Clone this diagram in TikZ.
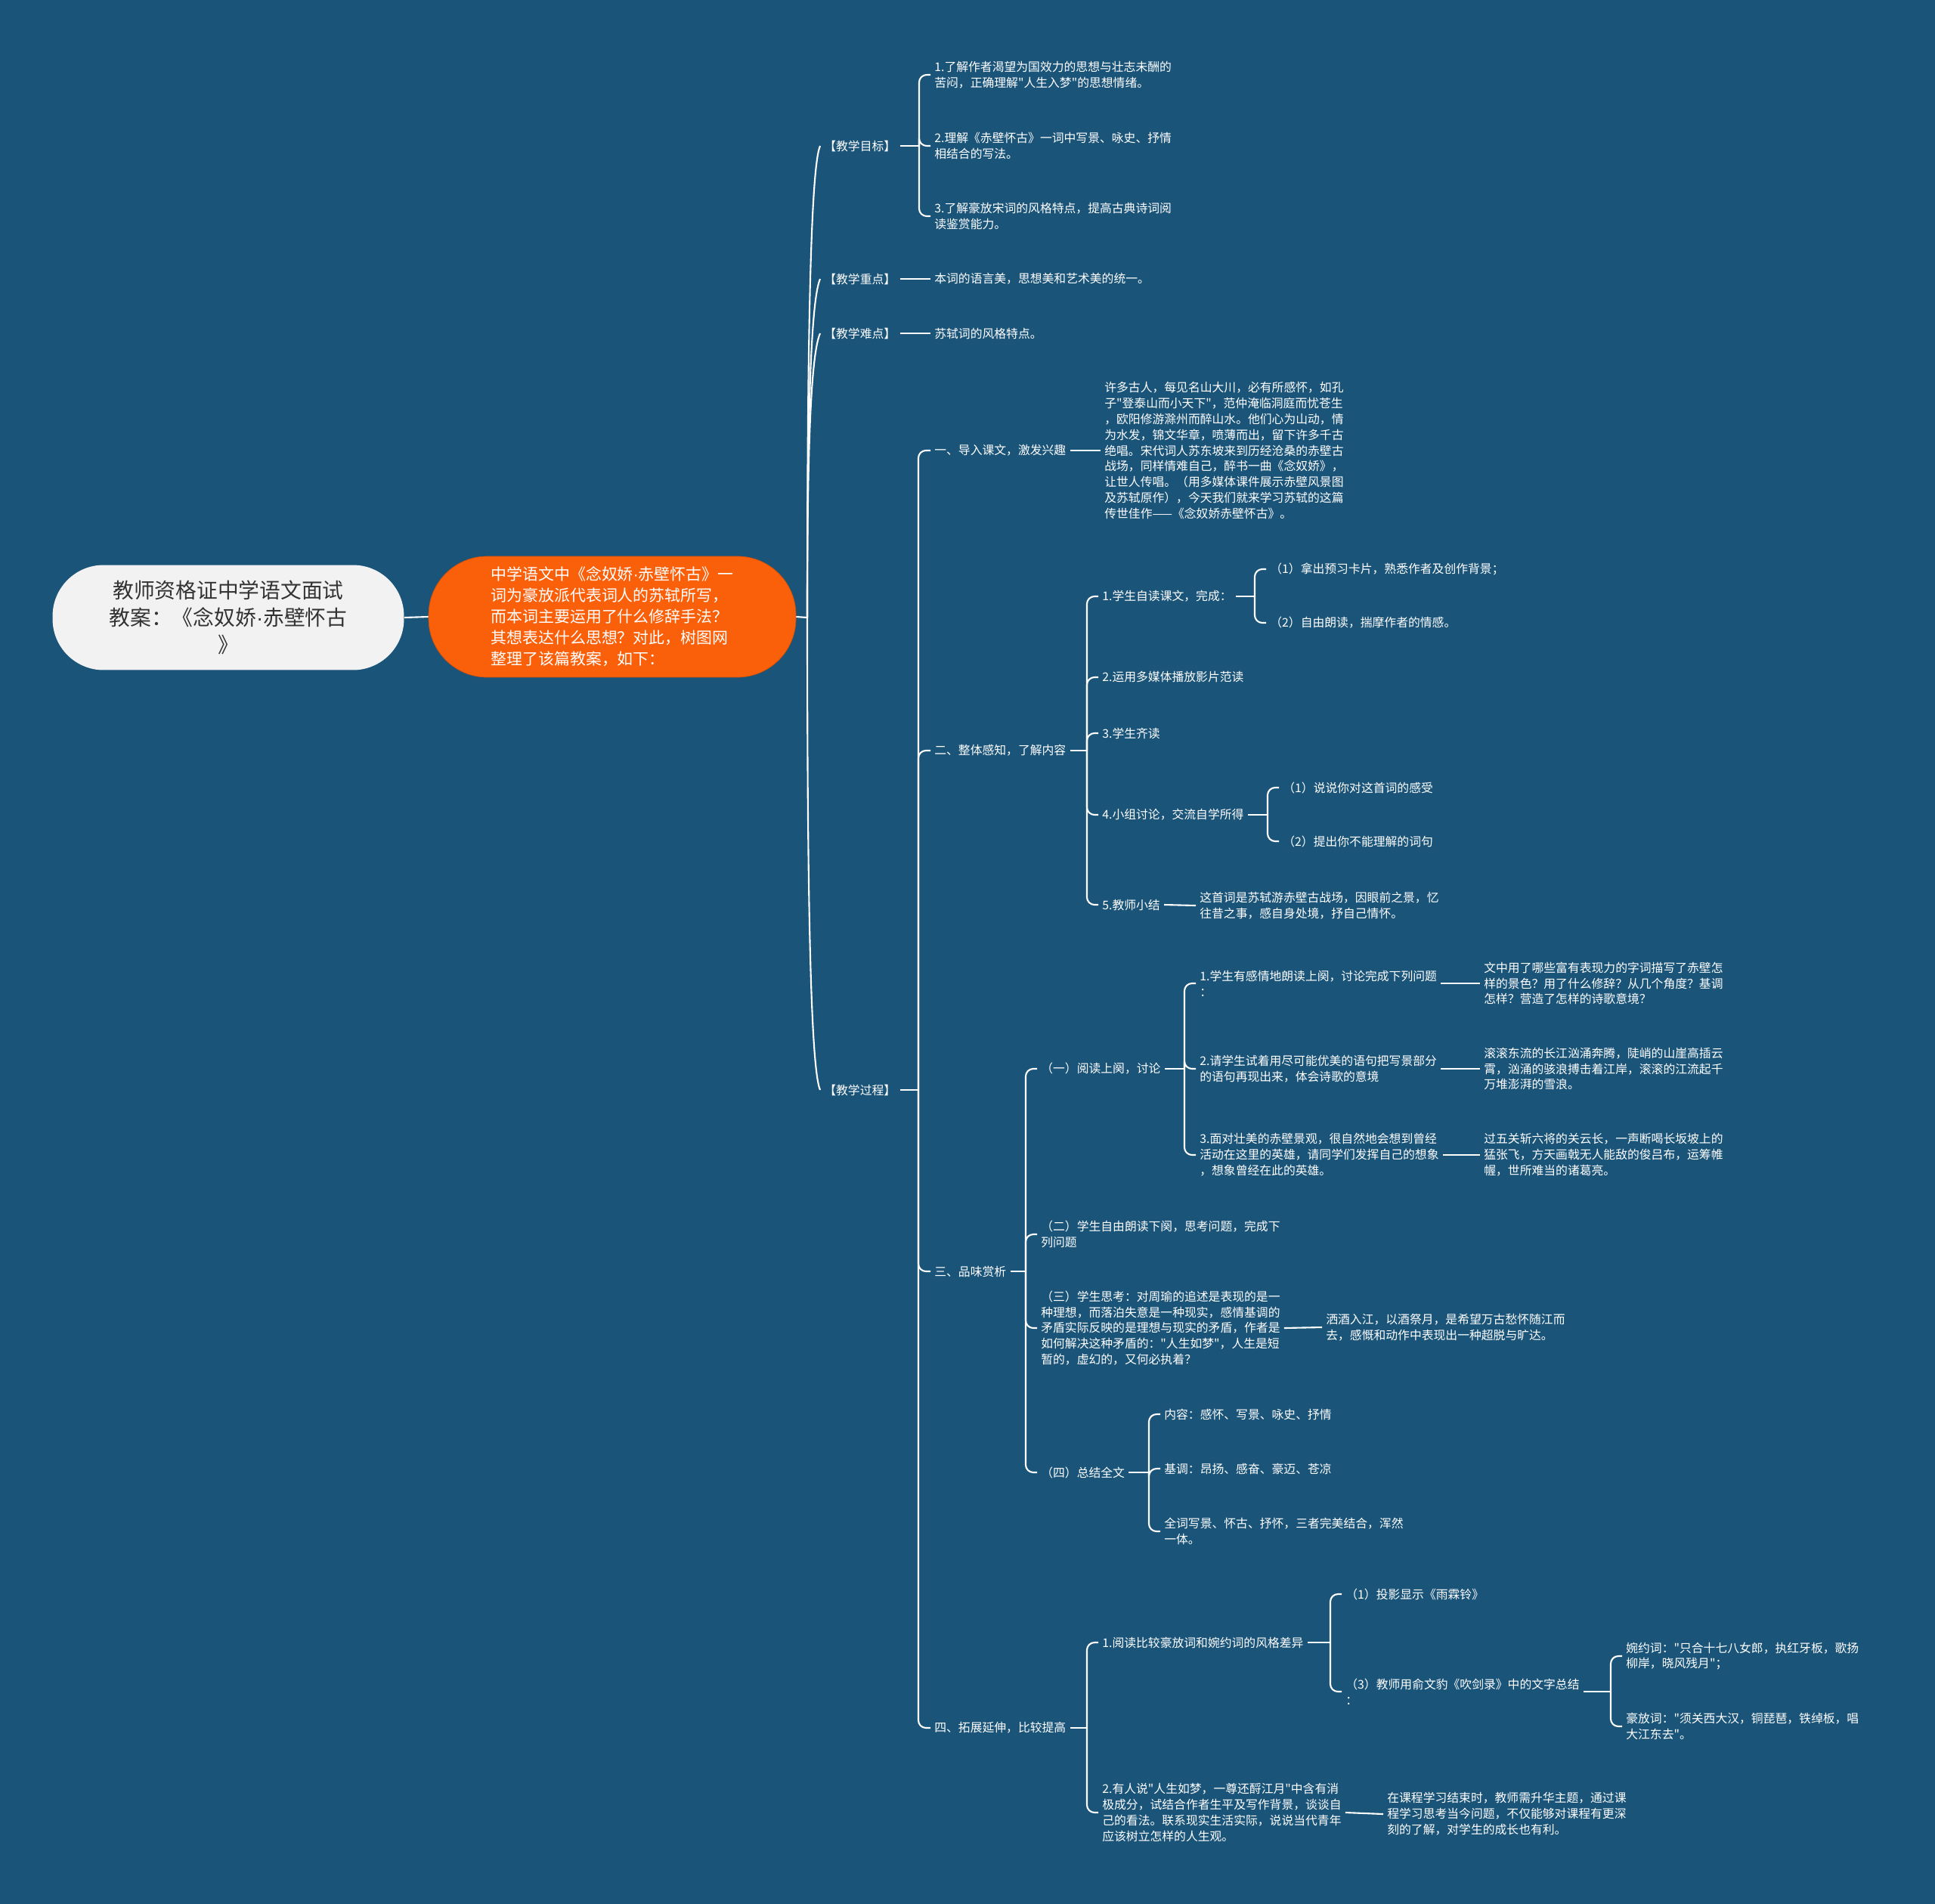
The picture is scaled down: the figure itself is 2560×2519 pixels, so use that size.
\documentclass[tikz,border=0pt]{standalone}
\usepackage{fontspec}
\usepackage{xcolor}
\usepackage{tikz}
\usetikzlibrary{positioning, calc}
\newfontfamily\cjk{Noto Sans CJK SC}
\newfontfamily\latin{Liberation Sans}
\newcommand{\mdot}{{\latin ·}}
\definecolor{mybg}{RGB}{26,84,121}
\definecolor{myorange}{RGB}{250,95,10}
\definecolor{myroot}{RGB}{242,242,242}
\definecolor{mydark}{RGB}{51,51,51}
\tikzset{
  rootnode/.style={rectangle, fill=myroot, text=mydark, minimum width=9.3cm, minimum height=2.78cm, rounded corners=1.35cm, align=center, font=\cjk\fontsize{15.8}{20.4}\selectfont},
  mainnode/.style={rectangle, fill=myorange, draw=myorange!85!black, line width=0.4pt, text=white, minimum width=9.72cm, minimum height=3.2cm, rounded corners=1.55cm, align=left, font=\cjk\fontsize{11.9}{15.9}\selectfont},
  topic/.style={anchor=west, text=white, align=left, inner sep=0.1cm, font=\cjk\fontsize{9}{11.9}\selectfont},
  link/.style={draw=white, line width=1.2pt, rounded corners=0.2cm},
  branch/.style={draw=white, line width=1.2pt}
}

\begin{document}
\begin{tikzpicture}[x=0.02cm, y=-0.02cm]
  % Canvas
  \fill[mybg] (0,0) rectangle (2560,2519);
  \useasboundingbox (0,0) rectangle (2560,2519);

  % Root and main topic
  \node[rootnode] (root) at (302,817) {教师资格证中学语文面试\\教案：《念奴娇\mdot 赤壁怀古\\》};
  \node[mainnode] (main) at (810,816) {中学语文中《念奴娇\mdot 赤壁怀古》一\\词为豪放派代表词人的苏轼所写，\\而本词主要运用了什么修辞手法？\\其想表达什么思想？对此，树图网\\整理了该篇教案，如下：};
  \draw[branch] (root.east) -- (main.west);
  \coordinate (hub) at (1068,817);
  \draw[branch] (main.east) -- (hub);

  % Level one
  \node[topic] (goal) at (1085,193) {【教学目标】};
  \node[topic] (focus) at (1085,369) {【教学重点】};
  \node[topic] (hard) at (1085,441) {【教学难点】};
  \node[topic] (proc) at (1085,1442) {【教学过程】};
  \draw[branch] (hub) .. controls (1068,505) and (1071,225) .. (goal.west);
  \draw[branch] (hub) .. controls (1068,593) and (1071,401) .. (focus.west);
  \draw[branch] (hub) .. controls (1068,629) and (1071,473) .. (hard.west);
  \draw[branch] (hub) .. controls (1068,1130) and (1071,1410) .. (proc.west);

  % Teaching goals
  \node[topic] (goal1) at (1231,99) {1.了解作者渴望为国效力的思想与壮志未酬的\\苦闷，正确理解"人生入梦"的思想情绪。};
  \node[topic] (goal2) at (1231,193) {2.理解《赤壁怀古》一词中写景、咏史、抒情\\相结合的写法。};
  \node[topic] (goal3) at (1231,286) {3.了解豪放宋词的风格特点，提高古典诗词阅\\读鉴赏能力。};
  \coordinate (bkgoal) at (1216,193);
  \draw[link] (goal.east) -- (bkgoal);
  \foreach \c in {goal1, goal2, goal3}
    \draw[link] (bkgoal) |- (\c.west);

  % Focus and difficulty
  \node[topic] (focus1) at (1231,369) {本词的语言美，思想美和艺术美的统一。};
  \node[topic] (hard1) at (1231,441) {苏轼词的风格特点。};
  \draw[branch] (focus.east) -- (focus1.west);
  \draw[branch] (hard.east) -- (hard1.west);

  % Teaching process
  \node[topic] (step1) at (1231,596) {一、导入课文，激发兴趣};
  \node[topic] (step2) at (1231,993) {二、整体感知，了解内容};
  \node[topic] (step3) at (1231,1682) {三、品味赏析};
  \node[topic] (step4) at (1231,2286) {四、拓展延伸，比较提高};
  \coordinate (bkproc) at (1215,1442);
  \draw[link] (proc.east) -- (bkproc);
  \foreach \c in {step1, step2, step3, step4}
    \draw[link] (bkproc) |- (\c.west);

  % Step one
  \node[topic] (step1txt) at (1456,596) {许多古人，每见名山大川，必有所感怀，如孔\\子"登泰山而小天下"，范仲淹临洞庭而忧苍生\\，欧阳修游滁州而醉山水。他们心为山动，情\\为水发，锦文华章，喷薄而出，留下许多千古\\绝唱。宋代词人苏东坡来到历经沧桑的赤壁古\\战场，同样情难自己，醉书一曲《念奴娇》，\\让世人传唱。（用多媒体课件展示赤壁风景图\\及苏轼原作），今天我们就来学习苏轼的这篇\\传世佳作——《念奴娇赤壁怀古》。};
  \draw[branch] (step1.east) -- (step1txt.west);

  % Step two
  \node[topic] (step2a) at (1453,789) {1.学生自读课文，完成：};
  \node[topic] (step2b) at (1453,896) {2.运用多媒体播放影片范读};
  \node[topic] (step2c) at (1453,970) {3.学生齐读};
  \node[topic] (step2d) at (1453,1078) {4.小组讨论，交流自学所得};
  \node[topic] (step2e) at (1453,1197) {5.教师小结};
  \coordinate (bktwo) at (1438,993);
  \draw[link] (step2.east) -- (bktwo);
  \foreach \c in {step2a, step2b, step2c, step2d, step2e}
    \draw[link] (bktwo) |- (\c.west);

  \node[topic] (step2a1) at (1675,753) {（1）拿出预习卡片，熟悉作者及创作背景；};
  \node[topic] (step2a2) at (1675,824) {（2）自由朗读，揣摩作者的情感。};
  \coordinate (bktwoa) at (1660,789);
  \draw[link] (step2a.east) -- (bktwoa);
  \foreach \c in {step2a1, step2a2}
    \draw[link] (bktwoa) |- (\c.west);

  \node[topic] (step2d1) at (1692,1042) {（1）说说你对这首词的感受};
  \node[topic] (step2d2) at (1692,1113) {（2）提出你不能理解的词句};
  \coordinate (bktwod) at (1677,1078);
  \draw[link] (step2d.east) -- (bktwod);
  \foreach \c in {step2d1, step2d2}
    \draw[link] (bktwod) |- (\c.west);

  \node[topic] (step2etxt) at (1582,1198) {这首词是苏轼游赤壁古战场，因眼前之景，忆\\往昔之事，感自身处境，抒自己情怀。};
  \draw[branch] (step2e.east) -- (step2etxt.west);

  % Step three
  \node[topic] (step3a) at (1372,1414) {（一）阅读上阕，讨论};
  \node[topic] (step3b) at (1372,1633) {（二）学生自由朗读下阕，思考问题，完成下\\列问题};
  \node[topic] (step3c) at (1372,1757) {（三）学生思考：对周瑜的追述是表现的是一\\种理想，而落泊失意是一种现实，感情基调的\\矛盾实际反映的是理想与现实的矛盾，作者是\\如何解决这种矛盾的："人生如梦"，人生是短\\暂的，虚幻的，又何必执着？};
  \node[topic] (step3d) at (1372,1948) {（四）总结全文};
  \coordinate (bkthree) at (1357,1682);
  \draw[link] (step3.east) -- (bkthree);
  \foreach \c in {step3a, step3b, step3c, step3d}
    \draw[link] (bkthree) |- (\c.west);

  \node[topic] (step3a1) at (1582,1301) {1.学生有感情地朗读上阕，讨论完成下列问题\\：};
  \node[topic] (step3a2) at (1582,1414) {2.请学生试着用尽可能优美的语句把写景部分\\的语句再现出来，体会诗歌的意境};
  \node[topic] (step3a3) at (1582,1528) {3.面对壮美的赤壁景观，很自然地会想到曾经\\活动在这里的英雄，请同学们发挥自己的想象\\，想象曾经在此的英雄。};
  \coordinate (bkthreea) at (1567,1414);
  \draw[link] (step3a.east) -- (bkthreea);
  \foreach \c in {step3a1, step3a2, step3a3}
    \draw[link] (bkthreea) |- (\c.west);

  \node[topic] (step3a1txt) at (1958,1301) {文中用了哪些富有表现力的字词描写了赤壁怎\\样的景色？用了什么修辞？从几个角度？基调\\怎样？营造了怎样的诗歌意境？};
  \node[topic] (step3a2txt) at (1958,1414) {滚滚东流的长江汹涌奔腾，陡峭的山崖高插云\\霄，汹涌的骇浪搏击着江岸，滚滚的江流起千\\万堆澎湃的雪浪。};
  \node[topic] (step3a3txt) at (1958,1528) {过五关斩六将的关云长，一声断喝长坂坡上的\\猛张飞，方天画戟无人能敌的俊吕布，运筹帷\\幄，世所难当的诸葛亮。};
  \draw[branch] (step3a1.east |- step3a1txt.west) -- (step3a1txt.west);
  \draw[branch] (step3a2.east) -- (step3a2txt.west);
  \draw[branch] (step3a3.east) -- (step3a3txt.west);

  \node[topic] (step3ctxt) at (1749,1756) {洒酒入江，以酒祭月，是希望万古愁怀随江而\\去，感慨和动作中表现出一种超脱与旷达。};
  \draw[branch] (step3c.east) -- (step3ctxt.west);

  \node[topic] (step3d1) at (1535,1871) {内容：感怀、写景、咏史、抒情};
  \node[topic] (step3d2) at (1535,1943) {基调：昂扬、感奋、豪迈、苍凉};
  \node[topic] (step3d3) at (1535,2026) {全词写景、怀古、抒怀，三者完美结合，浑然\\一体。};
  \coordinate (bkthreed) at (1520,1948);
  \draw[link] (step3d.east) -- (bkthreed);
  \foreach \c in {step3d1, step3d2, step3d3}
    \draw[link] (bkthreed) |- (\c.west);

  % Step four
  \node[topic] (step4a) at (1453,2173) {1.阅读比较豪放词和婉约词的风格差异};
  \node[topic] (step4b) at (1453,2398) {2.有人说"人生如梦，一尊还酹江月"中含有消\\极成分，试结合作者生平及写作背景，谈谈自\\己的看法。联系现实生活实际，说说当代青年\\应该树立怎样的人生观。};
  \coordinate (bkfour) at (1438,2286);
  \draw[link] (step4.east) -- (bkfour);
  \foreach \c in {step4a, step4b}
    \draw[link] (bkfour) |- (\c.west);

  \node[topic] (step4a1) at (1775,2109) {（1）投影显示《雨霖铃》};
  \node[topic] (step4a3) at (1775,2238) {（3）教师用俞文豹《吹剑录》中的文字总结\\：};
  \coordinate (bkfoura) at (1760,2173);
  \draw[link] (step4a.east) -- (bkfoura);
  \foreach \c in {step4a1, step4a3}
    \draw[link] (bkfoura) |- (\c.west);

  \node[topic] (step4a3x) at (2146,2191) {婉约词："只合十七八女郎，执红牙板，歌扬\\柳岸，晓风残月"；};
  \node[topic] (step4a3y) at (2146,2284) {豪放词："须关西大汉，铜琵琶，铁绰板，唱\\大江东去"。};
  \coordinate (bkfourac) at (2131,2238);
  \draw[link] (step4a3.east) -- (bkfourac);
  \foreach \c in {step4a3x, step4a3y}
    \draw[link] (bkfourac) |- (\c.west);

  \node[topic] (step4btxt) at (1830,2400) {在课程学习结束时，教师需升华主题，通过课\\程学习思考当今问题，不仅能够对课程有更深\\刻的了解，对学生的成长也有利。};
  \draw[branch] (step4b.east) -- (step4btxt.west);
\end{tikzpicture}
\end{document}
